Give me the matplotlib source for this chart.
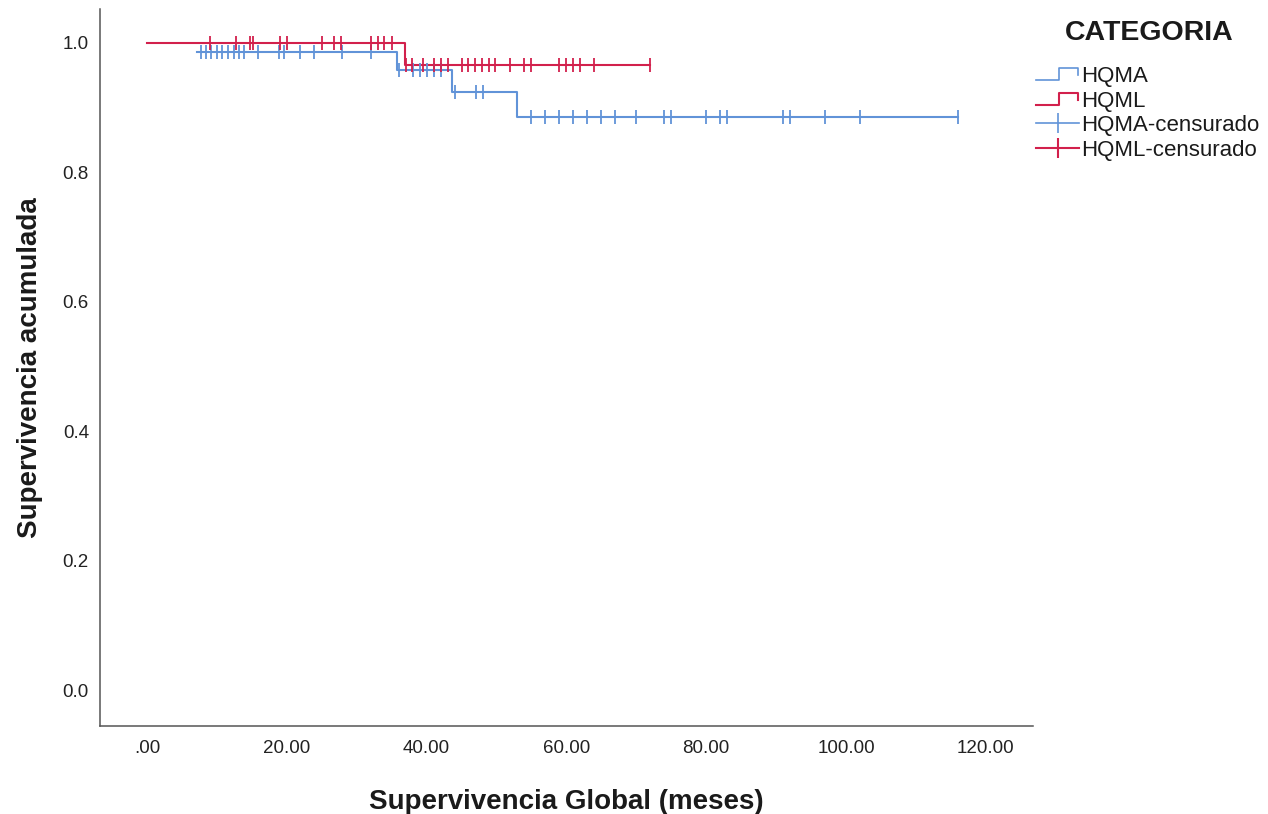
import matplotlib
matplotlib.use("Agg")
import matplotlib.pyplot as plt
import numpy as np
from matplotlib.lines import Line2D
from matplotlib.legend_handler import HandlerBase

plt.rcParams['font.family'] = ['Liberation Sans', 'DejaVu Sans']

# ---------------- data ----------------
categories = ["HQMA", "HQML"]
legend_title = "CATEGORIA"
legend_labels = ["HQMA", "HQML", "HQMA-censurado", "HQML-censurado"]

# step start times and survival level from that time on
hqma_times = [7.1, 35.8, 43.7, 52.9]
hqma_surv = [0.986, 0.959, 0.925, 0.885]
hqma_end = 116.0
hqma_censored = [7.8, 8.5, 9.2, 10.0, 10.8, 11.6, 12.4, 13.2, 13.9, 15.9, 18.9, 19.6,
                 21.9, 23.9, 27.9, 32.0,
                 36.0, 38.0, 39.0, 40.0, 41.0, 42.0,
                 44.0, 47.0, 48.0,
                 55.0, 57.0, 59.0, 61.0, 63.0, 65.0, 67.0, 70.0, 74.0, 75.0,
                 80.0, 82.0, 83.0, 91.0, 92.0, 97.0, 102.0, 116.0]

hqml_times = [0.0, 36.9]
hqml_surv = [1.0, 0.966]
hqml_end = 72.0
hqml_censored = [9.0, 12.8, 14.7, 15.1, 19.0, 20.0, 25.0, 26.8, 27.8, 32.0, 33.0, 33.9, 35.0,
                 37.1, 37.9, 39.5, 41.0, 42.1, 43.0, 45.0, 45.9, 46.9, 47.9, 48.9, 49.8,
                 51.9, 53.9, 55.0, 59.0, 59.9, 60.9, 61.9, 64.0, 72.0]

x_ticks = [0, 20, 40, 60, 80, 100, 120]
x_ticklabels = [".00", "20.00", "40.00", "60.00", "80.00", "100.00", "120.00"]
y_ticks = [0.0, 0.2, 0.4, 0.6, 0.8, 1.0]
y_ticklabels = ["0.0", "0.2", "0.4", "0.6", "0.8", "1.0"]

blue = "#6193d8"
red = "#d2204c"

def level_at(times, surv, t):
    idx = np.searchsorted(times, t, side="right") - 1
    idx = np.clip(idx, 0, len(surv) - 1)
    return np.asarray(surv)[idx]

fig = plt.figure(figsize=(12.68, 8.14), dpi=100)
ax = fig.add_axes([100/1268, (814-725.7)/814, 933/1268, (725.7-9)/814])

for times, surv, end, cens, col in [
        (hqma_times, hqma_surv, hqma_end, hqma_censored, blue),
        (hqml_times, hqml_surv, hqml_end, hqml_censored, red)]:
    xs = list(times) + [end]
    ys = list(surv) + [surv[-1]]
    ax.step(xs, ys, where="post", color=col, lw=1.5, zorder=3)
    ax.plot(cens, level_at(np.array(times), surv, np.array(cens)), ls="none",
            marker="|", markersize=10, mew=1.3, color=col, zorder=4)

ax.set_xlim(-6.72, 126.75)
ax.set_ylim(-0.0544, 1.0525)
ax.set_xticks(x_ticks)
ax.set_xticklabels(x_ticklabels)
ax.set_yticks(y_ticks)
ax.set_yticklabels(y_ticklabels)
ax.tick_params(axis="both", length=0, labelsize=13.5, colors="#222222")
ax.tick_params(axis="x", pad=10)
ax.tick_params(axis="y", pad=8)
for s in ["top", "right"]:
    ax.spines[s].set_visible(False)
for s in ["left", "bottom"]:
    ax.spines[s].set_color("#555555")
    ax.spines[s].set_linewidth(1.1)

ax.set_xlabel("Supervivencia Global (meses)", fontsize=20, fontweight="bold", color="#1a1a1a")
ax.set_ylabel("Supervivencia acumulada", fontsize=20, fontweight="bold", color="#1a1a1a")
ax.xaxis.set_label_coords(0.5, -0.088)
ax.yaxis.set_label_coords(-0.061, 0.5)


class HandlerStep(HandlerBase):
    def create_artists(self, legend, orig_handle, xdescent, ydescent, width, height,
                       fontsize, trans):
        x0, y0 = -xdescent, -ydescent
        xs = [x0, x0 + 0.52*width, x0 + 0.52*width, x0 + 0.97*width, x0 + 0.97*width]
        ys = [y0 + 0.1*height, y0 + 0.1*height, y0 + 0.9*height, y0 + 0.9*height, y0 + 0.45*height]
        ln = Line2D(xs, ys, color=orig_handle.get_color(), lw=orig_handle.get_linewidth())
        ln.set_transform(trans)
        return [ln]

h1 = Line2D([], [], color=blue, lw=1.2)
h2 = Line2D([], [], color=red, lw=1.5)
h3 = Line2D([], [], color=blue, lw=1.2, marker="|", markersize=15, mew=1.2)
h4 = Line2D([], [], color=red, lw=1.5, marker="|", markersize=15, mew=1.5)

fig.text(1149/1268, 1 - 33/814, legend_title, fontsize=20.5, fontweight="bold",
         color="#1a1a1a", ha="center", va="center")

leg = fig.legend([h1, h2, h3, h4], legend_labels, loc="upper left",
                 bbox_to_anchor=(1036/1268, (814-66)/814), frameon=False,
                 fontsize=16, handlelength=1.95, handletextpad=0.1, labelspacing=0.16,
                 borderpad=0, borderaxespad=0, numpoints=1,
                 handler_map={h1: HandlerStep(), h2: HandlerStep()})
for t in leg.get_texts():
    t.set_color("#1a1a1a")

fig.savefig("out.png", dpi=100)
